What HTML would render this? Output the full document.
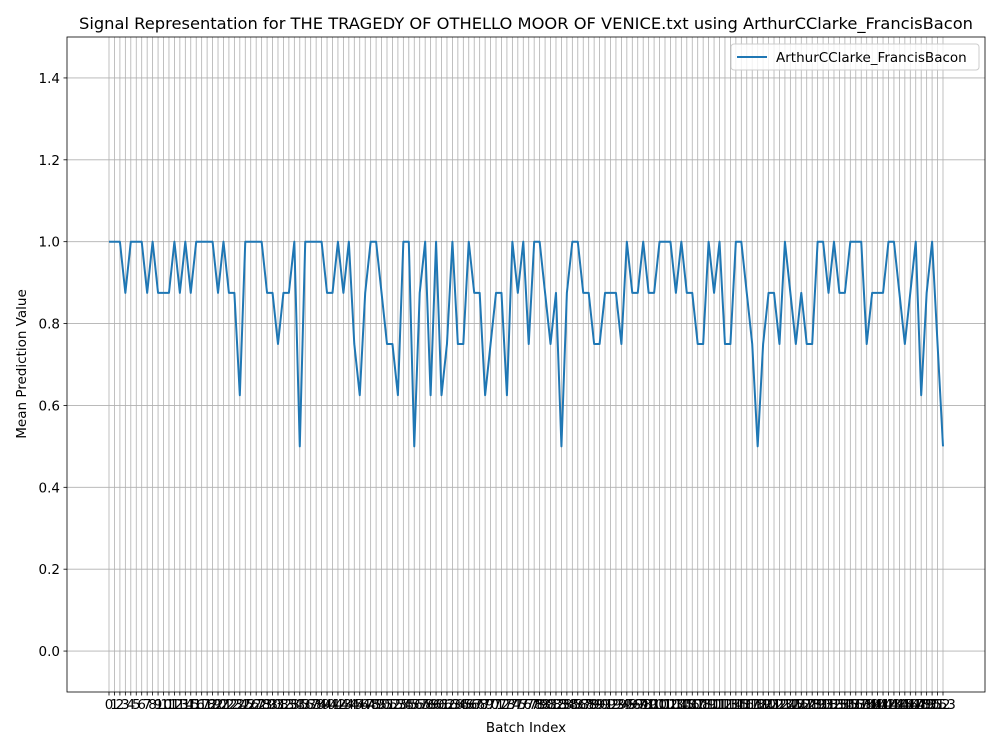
<!DOCTYPE html>
<html><head><meta charset="utf-8"><style>
body{margin:0;background:#fff}
svg text{font-family:"DejaVu Sans","Liberation Sans",sans-serif;fill:#000}
</style></head><body>
<svg id="chart" width="1000" height="750" xmlns="http://www.w3.org/2000/svg">
<rect x="0" y="0" width="1000" height="750" fill="#fff"/>
<g id="grid"></g>
<g id="xticks"></g>
<g id="yticks"></g>
<path id="line" fill="none" stroke="#1f77b4" stroke-width="2" stroke-linejoin="round"/>
<rect x="67" y="37" width="918" height="655" fill="none" stroke="#000" stroke-width="0.8"/>
<text x="526" y="29" text-anchor="middle" font-size="16.3">Signal Representation for THE TRAGEDY OF OTHELLO MOOR OF VENICE.txt using ArthurCClarke_FrancisBacon</text>
<text x="526" y="732" text-anchor="middle" font-size="13.5">Batch Index</text>
<text x="26" y="364" text-anchor="middle" font-size="13.5" transform="rotate(-90 26 364)">Mean Prediction Value</text>
<g>
<rect x="731" y="44" width="248" height="26" rx="3" fill="#fff" fill-opacity="0.8" stroke="#ccc"/>
<line x1="737" y1="57" x2="767" y2="57" stroke="#1f77b4" stroke-width="2"/>
<text x="776" y="62" font-size="13.5">ArthurCClarke_FrancisBacon</text>
</g>
</svg>
<script>
const values = [1,1,1,0.875,1,1,1,0.875,1,0.875,0.875,0.875,1,0.875,1,0.875,1,1,1,1,0.875,1,0.875,0.875,0.625,1,1,1,1,0.875,0.875,0.75,0.875,0.875,1,0.5,
1,1,1,1,0.875,0.875,1,0.875,1,0.75,0.625,0.875,1,1,0.875,0.75,0.75,0.625,1,1,0.5,0.875,1,0.625,1,0.625,0.75,1,0.75,0.75,1,0.875,0.875,0.625,0.75,0.875,0.875,0.625,1,0.875,
1,0.75,1,1,0.875,0.75,0.875,0.5,0.875,1,1,0.875,0.875,0.75,0.75,0.875,0.875,0.875,0.75,1,0.875,0.875,1,0.875,0.875,1,1,1,0.875,1,0.875,0.875,0.75,0.75,1,0.875,1,0.75,
0.75,1,1,0.875,0.75,0.5,0.75,0.875,0.875,0.75,1,0.875,0.75,0.875,0.75,0.75,1,1,0.875,1,0.875,0.875,1,1,1,0.75,0.875,0.875,0.875,1,1,0.875,0.75,0.875,1,0.625,0.875,1,0.75,0.5];
const yTicks = [0,0.2,0.4,0.6,0.8,1.0,1.2,1.4];
const yMin=-0.1, yMax=1.5;
const X0=67, X1=985, Y0=37, Y1=692;
const ns="http://www.w3.org/2000/svg";
const n=values.length;
const xs=i=>109+i*(943-109)/(n-1);
const ys=v=>Y1-(v-yMin)/(yMax-yMin)*(Y1-Y0);
const grid=document.getElementById('grid'), xt=document.getElementById('xticks'), yt=document.getElementById('yticks');
function mk(tag,attrs){const e=document.createElementNS(ns,tag);for(const k in attrs)e.setAttribute(k,attrs[k]);return e;}
for(let i=0;i<n;i++){
  const x=xs(i);
  const g=mk('line',{x1:x,x2:x,y1:Y0,y2:Y1,stroke:'#b0b0b0','stroke-width':0.8});
  
  
  grid.appendChild(g);
  const t=mk('line',{x1:x,x2:x,y1:Y1,y2:Y1+3.5,stroke:'#000','stroke-width':0.8});
  
  
  xt.appendChild(t);
  const l=mk('text',{x:x,y:Y1+17,'text-anchor':'middle','font-size':13.5});
  
  
  l.textContent=String(i);
  xt.appendChild(l);
}
yTicks.forEach(v=>{
  const y=ys(v);
  const g=mk('line',{x1:X0,x2:X1,y1:y,y2:y,stroke:'#b0b0b0','stroke-width':0.8});
  
  
  grid.appendChild(g);
  const t=mk('line',{x1:X0-3.5,x2:X0,y1:y,y2:y,stroke:'#000','stroke-width':0.8});
  
  
  yt.appendChild(t);
  const l=mk('text',{x:X0-7,y:y+5,'text-anchor':'end','font-size':13.5});
  
  
  l.textContent=v.toFixed(1);
  yt.appendChild(l);
});
document.getElementById('line').setAttribute('d',values.map((v,i)=>(i?'L':'M')+xs(i).toFixed(2)+','+ys(v).toFixed(2)).join(''));
</script>
</body></html>
